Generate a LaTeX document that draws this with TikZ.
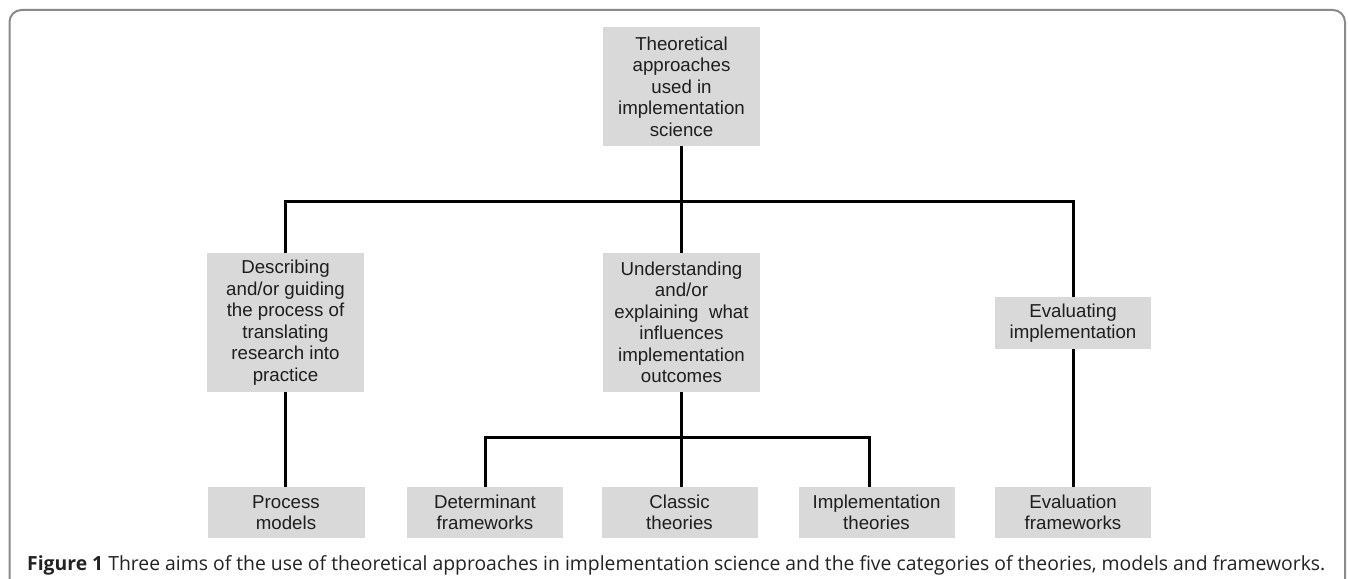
\documentclass[tikz,border=0pt]{standalone}
\usepackage{fontspec}
\setmainfont{Liberation Sans}
\newfontfamily\capfont{Open Sans}
\usepackage{graphicx}
\definecolor{boxfill}{HTML}{D9D9D9}
\definecolor{boxtext}{HTML}{1E1E1E}
\definecolor{framec}{HTML}{8A8A8A}
\definecolor{captext}{HTML}{222222}
\begin{document}
\begin{tikzpicture}[x=1pt,y=-1pt,
  box/.style={fill=boxfill, text=boxtext, inner sep=0pt, align=center,
    minimum width=157pt, font=\fontsize{18.7}{21.5}\selectfont},
  conn/.style={draw=black, line width=3pt}]
\useasboundingbox (0,0) rectangle (1348,578);
\clip (0,0) rectangle (1348,578);
\draw[framec, line width=2pt, rounded corners=12pt] (9.5,620) -- (9.5,10) -- (1345,10) -- (1345,620);

\node[box, minimum height=119pt] (top) at (681.5,86.5) {Theoretical\\approaches\\used in\\implementation\\science};
\node[box, minimum height=139pt] (desc) at (285.5,322.5) {Describing\\and/or guiding\\the process of\\translating\\research into\\practice};
\node[box, minimum height=139pt] (und) at (681.5,322.5) {Understanding\\and/or\\explaining\ \ what\\influences\\implementation\\outcomes};
\node[box, minimum width=156pt, minimum height=52pt] (eval) at (1073,323) {Evaluating\\implementation};

\node[box, minimum height=51pt] (proc) at (286,512.5) {Process\\models};
\node[box, minimum width=156pt, minimum height=51pt] (det) at (485,512.5) {Determinant\\frameworks};
\node[box, minimum width=156pt, minimum height=51pt] (clas) at (679.5,512.5) {Classic\\theories};
\node[box, minimum width=156pt, minimum height=51pt] (impl) at (876.5,512.5) {Implementation\\theories};
\node[box, minimum width=156pt, minimum height=51pt] (evfw) at (1073,512.5) {Evaluation\\frameworks};

\coordinate (h1) at (681.5,201);
\coordinate (h2) at (681.5,437);
\coordinate (implin) at (869,487);

\draw[conn] (top.south) -- (und.north);
\draw[conn] (desc.north) |- (h1) -| (eval.north);
\draw[conn] (desc.south) -- (desc.south |- proc.north);
\draw[conn] (und.south) -- (und.south |- clas.north);
\draw[conn] (det.north) |- (h2) -| (implin);
\draw[conn] (eval.south) -- (evfw.north);

\node[anchor=base west, inner sep=0pt, text=captext] (cap) at (27,570)
  {\resizebox{1298pt}{\height}{\capfont\fontsize{19.5}{23}\selectfont\textbf{Figure 1} Three aims of the use of theoretical approaches in implementation science and the five categories of theories, models and frameworks.}};
\end{tikzpicture}
\end{document}
